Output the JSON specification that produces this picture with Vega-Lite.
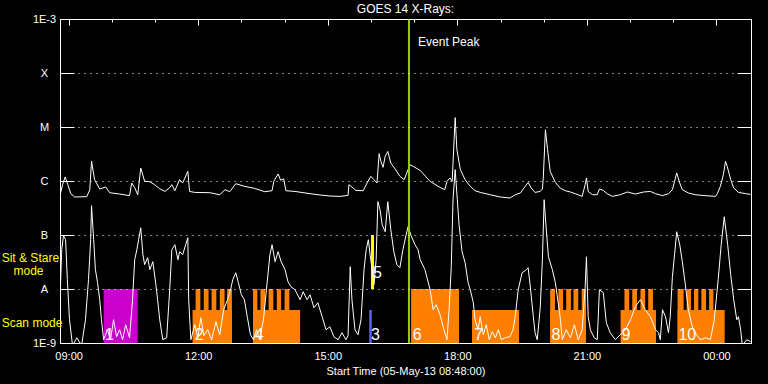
{
  "$schema": "https://vega.github.io/schema/vega-lite/v6.json",
  "width": 691,
  "height": 324,
  "autosize": {"type": "none"},
  "padding": {"left": 60, "top": 19, "right": 17, "bottom": 41},
  "background": "black",
  "config": {
    "view": {"stroke": "white", "strokeWidth": 1},
    "font": "Liberation Sans"
  },
  "title": {"text": "GOES 14 X-Rays:", "color": "white", "font": "Liberation Sans", "fontSize": 12, "fontWeight": "normal", "frame": "group", "offset": -3, "anchor": "middle"},
  "datasets": {
    "long": [
      {"h":8.80,"f":5.41e-7},{"h":8.86,"f":8.54e-7},{"h":8.92,"f":1.19e-6},{"h":8.98,"f":8.54e-7},{"h":9.05,"f":5.82e-7},{"h":9.14,"f":5.06e-7},{"h":9.42,"f":5.12e-7},{"h":9.49,"f":6.90e-7},{"h":9.53,"f":2.35e-6},{"h":9.60,"f":1.06e-6},{"h":9.72,"f":7.11e-7},{"h":9.86,"f":7.74e-7},{"h":9.95,"f":6.07e-7},{"h":10.18,"f":5.74e-7},{"h":10.41,"f":5.35e-7},{"h":10.46,"f":9.18e-7},{"h":10.53,"f":7.52e-7},{"h":10.60,"f":5.57e-7},{"h":10.67,"f":1.74e-6},{"h":10.76,"f":9.84e-7},{"h":10.88,"f":9.70e-7},{"h":10.99,"f":8.54e-7},{"h":11.11,"f":7.19e-7},{"h":11.23,"f":6.41e-7},{"h":11.34,"f":7.52e-7},{"h":11.39,"f":8.54e-7},{"h":11.46,"f":6.61e-7},{"h":11.57,"f":1.06e-6},{"h":11.64,"f":9.18e-7},{"h":11.76,"f":1.51e-6},{"h":11.80,"f":6.41e-7},{"h":11.92,"f":6.15e-7},{"h":12.27,"f":6.07e-7},{"h":12.50,"f":5.57e-7},{"h":12.62,"f":6.90e-7},{"h":12.73,"f":6.34e-7},{"h":12.87,"f":8.91e-7},{"h":13.08,"f":7.94e-7},{"h":13.31,"f":7.29e-7},{"h":13.54,"f":6.34e-7},{"h":13.71,"f":6.61e-7},{"h":13.75,"f":9.84e-7},{"h":13.85,"f":1.35e-6},{"h":13.91,"f":1.03e-6},{"h":13.98,"f":1.10e-6},{"h":14.03,"f":6.61e-7},{"h":14.24,"f":6.41e-7},{"h":14.59,"f":5.82e-7},{"h":14.82,"f":5.51e-7},{"h":15.05,"f":5.27e-7},{"h":15.28,"f":5.19e-7},{"h":15.47,"f":5.41e-7},{"h":15.49,"f":8.54e-7},{"h":15.56,"f":7.74e-7},{"h":15.65,"f":6.70e-7},{"h":15.82,"f":6.61e-7},{"h":15.91,"f":9.18e-7},{"h":16.00,"f":1.22e-6},{"h":16.07,"f":1.06e-6},{"h":16.14,"f":9.18e-7},{"h":16.19,"f":3.21e-6},{"h":16.23,"f":2.31e-6},{"h":16.28,"f":1.79e-6},{"h":16.33,"f":2.86e-6},{"h":16.39,"f":3.53e-6},{"h":16.46,"f":2.15e-6},{"h":16.56,"f":1.67e-6},{"h":16.67,"f":1.22e-6},{"h":16.77,"f":1.06e-6},{"h":16.86,"f":1.62e-6},{"h":16.91,"f":2.00e-6},{"h":16.98,"f":1.86e-6},{"h":17.14,"f":1.57e-6},{"h":17.37,"f":9.84e-7},{"h":17.60,"f":7.61e-7},{"h":17.71,"f":6.90e-7},{"h":17.76,"f":9.84e-7},{"h":17.83,"f":1.14e-6},{"h":17.88,"f":9.84e-7},{"h":17.95,"f":1.49e-5},{"h":17.99,"f":3.80e-6},{"h":18.07,"f":1.62e-6},{"h":18.18,"f":1.06e-6},{"h":18.30,"f":7.94e-7},{"h":18.41,"f":6.61e-7},{"h":18.53,"f":6.15e-7},{"h":18.76,"f":5.57e-7},{"h":18.99,"f":5.06e-7},{"h":19.22,"f":4.84e-7},{"h":19.34,"f":5.57e-7},{"h":19.46,"f":6.00e-7},{"h":19.57,"f":7.94e-7},{"h":19.64,"f":9.42e-7},{"h":19.71,"f":7.41e-7},{"h":19.80,"f":6.15e-7},{"h":19.92,"f":6.41e-7},{"h":19.97,"f":7.11e-7},{"h":19.99,"f":1.14e-6},{"h":20.04,"f":8.91e-6},{"h":20.09,"f":3.80e-6},{"h":20.15,"f":1.51e-6},{"h":20.27,"f":9.42e-7},{"h":20.38,"f":7.41e-7},{"h":20.50,"f":6.61e-7},{"h":20.62,"f":6.25e-7},{"h":20.73,"f":5.82e-7},{"h":20.89,"f":5.19e-7},{"h":20.96,"f":8.54e-7},{"h":20.99,"f":1.14e-6},{"h":21.03,"f":6.41e-7},{"h":21.13,"f":5.57e-7},{"h":21.24,"f":5.57e-7},{"h":21.29,"f":7.11e-7},{"h":21.38,"f":6.70e-7},{"h":21.47,"f":5.82e-7},{"h":21.59,"f":5.19e-7},{"h":21.77,"f":5.57e-7},{"h":21.94,"f":6.25e-7},{"h":22.12,"f":5.74e-7},{"h":22.31,"f":6.25e-7},{"h":22.47,"f":6.41e-7},{"h":22.59,"f":5.82e-7},{"h":22.75,"f":5.35e-7},{"h":22.89,"f":5.82e-7},{"h":22.98,"f":6.90e-7},{"h":23.03,"f":9.84e-7},{"h":23.08,"f":1.41e-6},{"h":23.15,"f":9.18e-7},{"h":23.21,"f":6.90e-7},{"h":23.35,"f":6.00e-7},{"h":23.51,"f":5.57e-7},{"h":23.74,"f":5.35e-7},{"h":23.98,"f":5.19e-7},{"h":24.02,"f":5.82e-7},{"h":24.09,"f":7.94e-7},{"h":24.16,"f":1.31e-6},{"h":24.21,"f":2.31e-6},{"h":24.25,"f":1.86e-6},{"h":24.33,"f":1.06e-6},{"h":24.40,"f":7.41e-7},{"h":24.51,"f":6.15e-7},{"h":24.68,"f":5.82e-7},{"h":24.79,"f":5.65e-7}
    ],
    "short": [
      {"h":8.80,"f":6.34e-9},{"h":8.84,"f":5.35e-8},{"h":8.88,"f":9.71e-8},{"h":8.93,"f":8.18e-8},{"h":8.97,"f":1.49e-8},{"h":9.02,"f":2.70e-9},{"h":9.09,"f":9e-10},{"h":9.19,"f":1.25e-9},{"h":9.30,"f":9e-10},{"h":9.39,"f":2.70e-9},{"h":9.46,"f":1.49e-8},{"h":9.51,"f":8.18e-8},{"h":9.53,"f":3.49e-7},{"h":9.58,"f":8.18e-8},{"h":9.62,"f":2.28e-8},{"h":9.67,"f":1.31e-8},{"h":9.72,"f":6.34e-9},{"h":9.76,"f":2.70e-9},{"h":9.81,"f":1.15e-9},{"h":9.90,"f":1.76e-9},{"h":9.97,"f":1.15e-9},{"h":10.04,"f":2.70e-9},{"h":10.11,"f":1.31e-9},{"h":10.18,"f":1.76e-9},{"h":10.25,"f":1.15e-9},{"h":10.32,"f":2.18e-9},{"h":10.41,"f":1.25e-9},{"h":10.48,"f":6.34e-9},{"h":10.53,"f":3.49e-8},{"h":10.58,"f":5.35e-8},{"h":10.62,"f":8.18e-8},{"h":10.67,"f":1.36e-7},{"h":10.72,"f":4.31e-8},{"h":10.76,"f":2.82e-8},{"h":10.83,"f":3.80e-8},{"h":10.88,"f":2.28e-8},{"h":10.95,"f":3.21e-8},{"h":11.02,"f":1.20e-8},{"h":11.06,"f":6.34e-9},{"h":11.11,"f":2.70e-9},{"h":11.18,"f":1.15e-9},{"h":11.27,"f":1.25e-9},{"h":11.34,"f":9.70e-9},{"h":11.39,"f":5.35e-8},{"h":11.46,"f":6.61e-8},{"h":11.53,"f":3.49e-8},{"h":11.57,"f":4.91e-8},{"h":11.64,"f":4.31e-8},{"h":11.71,"f":6.61e-8},{"h":11.76,"f":8.91e-8},{"h":11.78,"f":6.34e-9},{"h":11.83,"f":1.15e-9},{"h":11.92,"f":2.18e-9},{"h":11.99,"f":1.25e-9},{"h":12.06,"f":2.94e-9},{"h":12.13,"f":1.37e-9},{"h":12.22,"f":1.76e-9},{"h":12.31,"f":1.15e-9},{"h":12.41,"f":2.48e-9},{"h":12.50,"f":1.42e-9},{"h":12.59,"f":4.14e-9},{"h":12.68,"f":6.34e-9},{"h":12.75,"f":9.70e-9},{"h":12.80,"f":1.49e-8},{"h":12.87,"f":2.00e-8},{"h":12.93,"f":1.31e-8},{"h":13.00,"f":7.84e-9},{"h":13.07,"f":6.34e-9},{"h":13.14,"f":2.94e-9},{"h":13.21,"f":1.42e-9},{"h":13.28,"f":1.15e-9},{"h":13.35,"f":1.76e-9},{"h":13.42,"f":1.15e-9},{"h":13.51,"f":2.70e-9},{"h":13.58,"f":9.70e-9},{"h":13.66,"f":4.31e-8},{"h":13.71,"f":6.61e-8},{"h":13.78,"f":3.21e-8},{"h":13.85,"f":4.91e-8},{"h":13.92,"f":3.21e-8},{"h":14.01,"f":2.28e-8},{"h":14.08,"f":1.36e-8},{"h":14.15,"f":1.10e-8},{"h":14.24,"f":9.70e-9},{"h":14.36,"f":6.34e-9},{"h":14.43,"f":8.91e-9},{"h":14.52,"f":6.34e-9},{"h":14.59,"f":7.84e-9},{"h":14.68,"f":4.50e-9},{"h":14.77,"f":5.57e-9},{"h":14.87,"f":3.07e-9},{"h":14.96,"f":1.76e-9},{"h":15.05,"f":2.00e-9},{"h":15.14,"f":1.31e-9},{"h":15.24,"f":1.15e-9},{"h":15.33,"f":1.55e-9},{"h":15.42,"f":1.15e-9},{"h":15.47,"f":1.37e-9},{"h":15.52,"f":2.59e-8},{"h":15.56,"f":6.34e-9},{"h":15.63,"f":1.76e-9},{"h":15.70,"f":1.42e-9},{"h":15.77,"f":2.70e-9},{"h":15.84,"f":2.28e-8},{"h":15.89,"f":5.35e-8},{"h":15.94,"f":8.18e-8},{"h":15.98,"f":4.31e-8},{"h":16.03,"f":2.28e-8},{"h":16.07,"f":1.20e-8},{"h":16.12,"f":3.49e-8},{"h":16.16,"f":4.14e-7},{"h":16.21,"f":2.94e-7},{"h":16.26,"f":1.55e-7},{"h":16.33,"f":1.15e-7},{"h":16.39,"f":4.14e-7},{"h":16.46,"f":1.25e-7},{"h":16.53,"f":4.91e-8},{"h":16.60,"f":2.82e-8},{"h":16.67,"f":2.48e-8},{"h":16.74,"f":5.35e-8},{"h":16.81,"f":9.71e-8},{"h":16.86,"f":1.43e-7},{"h":16.93,"f":9.71e-8},{"h":17.02,"f":6.61e-8},{"h":17.09,"f":5.35e-8},{"h":17.14,"f":3.49e-8},{"h":17.25,"f":2.28e-8},{"h":17.37,"f":9.70e-9},{"h":17.44,"f":4.14e-9},{"h":17.51,"f":5.12e-9},{"h":17.60,"f":3.34e-9},{"h":17.69,"f":1.76e-9},{"h":17.76,"f":1.15e-9},{"h":17.81,"f":4.14e-9},{"h":17.86,"f":2.59e-8},{"h":17.90,"f":4.51e-7},{"h":17.95,"f":1.62e-6},{"h":18.00,"f":4.51e-7},{"h":18.04,"f":1.55e-7},{"h":18.11,"f":4.91e-8},{"h":18.18,"f":3.07e-8},{"h":18.25,"f":1.31e-8},{"h":18.30,"f":9.70e-9},{"h":18.37,"f":5.57e-9},{"h":18.41,"f":2.70e-9},{"h":18.48,"f":1.76e-9},{"h":18.53,"f":3.07e-9},{"h":18.60,"f":1.42e-9},{"h":18.67,"f":2.18e-9},{"h":18.74,"f":1.15e-9},{"h":18.81,"f":1.62e-9},{"h":18.88,"f":1.25e-9},{"h":18.95,"f":1.76e-9},{"h":19.02,"f":1.15e-9},{"h":19.11,"f":1.25e-9},{"h":19.22,"f":1.31e-9},{"h":19.29,"f":1.76e-9},{"h":19.34,"f":3.07e-9},{"h":19.41,"f":9.70e-9},{"h":19.50,"f":2.00e-8},{"h":19.60,"f":2.28e-8},{"h":19.64,"f":2.48e-8},{"h":19.69,"f":1.10e-8},{"h":19.76,"f":3.07e-9},{"h":19.80,"f":1.55e-9},{"h":19.85,"f":1.15e-9},{"h":19.92,"f":4.50e-9},{"h":19.97,"f":3.49e-8},{"h":20.01,"f":4.51e-7},{"h":20.06,"f":1.25e-7},{"h":20.11,"f":3.96e-8},{"h":20.20,"f":2.28e-8},{"h":20.27,"f":1.31e-8},{"h":20.38,"f":3.07e-9},{"h":20.43,"f":1.15e-9},{"h":20.52,"f":1.76e-9},{"h":20.62,"f":1.25e-9},{"h":20.71,"f":2.18e-9},{"h":20.80,"f":1.15e-9},{"h":20.89,"f":1.76e-9},{"h":20.96,"f":1.10e-8},{"h":20.99,"f":3.96e-8},{"h":21.03,"f":3.07e-9},{"h":21.08,"f":1.76e-9},{"h":21.17,"f":1.25e-9},{"h":21.24,"f":1.15e-9},{"h":21.29,"f":9.70e-9},{"h":21.38,"f":8.54e-9},{"h":21.45,"f":2.38e-9},{"h":21.54,"f":1.55e-9},{"h":21.66,"f":1.15e-9},{"h":21.77,"f":1.42e-9},{"h":21.89,"f":1.76e-9},{"h":22.01,"f":2.70e-9},{"h":22.12,"f":4.70e-9},{"h":22.24,"f":6.34e-9},{"h":22.35,"f":4.14e-9},{"h":22.47,"f":3.07e-9},{"h":22.59,"f":1.76e-9},{"h":22.66,"f":1.55e-9},{"h":22.70,"f":1.15e-9},{"h":22.75,"f":4.14e-9},{"h":22.82,"f":3.07e-9},{"h":22.89,"f":1.55e-9},{"h":22.93,"f":3.07e-9},{"h":22.98,"f":1.69e-8},{"h":23.03,"f":4.31e-8},{"h":23.08,"f":1.15e-7},{"h":23.15,"f":6.61e-8},{"h":23.21,"f":3.21e-8},{"h":23.28,"f":1.20e-8},{"h":23.35,"f":4.14e-9},{"h":23.44,"f":2.00e-9},{"h":23.54,"f":1.42e-9},{"h":23.63,"f":1.15e-9},{"h":23.75,"f":1.25e-9},{"h":23.86,"f":1.15e-9},{"h":23.95,"f":2.70e-9},{"h":24.04,"f":1.49e-8},{"h":24.11,"f":6.61e-8},{"h":24.18,"f":2.18e-7},{"h":24.26,"f":6.61e-8},{"h":24.33,"f":1.84e-8},{"h":24.40,"f":6.34e-9},{"h":24.47,"f":2.70e-9},{"h":24.51,"f":3.07e-9},{"h":24.56,"f":1.76e-9},{"h":24.60,"f":9e-10},{"h":24.70,"f":1.15e-9},{"h":24.79,"f":1.06e-9}
    ],
    "obs": [
      {"obs":"raster","h1":9.81,"h2":10.60,"lo":1e-9,"hi":1e-8},
      {"obs":"scan","h1":11.87,"h2":12.78,"lo":1e-9,"hi":4.1e-9},
      {"obs":"scan","h1":11.94,"h2":12.05,"lo":1e-9,"hi":1e-8},
      {"obs":"scan","h1":12.13,"h2":12.24,"lo":1e-9,"hi":1e-8},
      {"obs":"scan","h1":12.31,"h2":12.42,"lo":1e-9,"hi":1e-8},
      {"obs":"scan","h1":12.50,"h2":12.61,"lo":1e-9,"hi":1e-8},
      {"obs":"scan","h1":12.67,"h2":12.78,"lo":1e-9,"hi":1e-8},
      {"obs":"scan","h1":13.27,"h2":14.36,"lo":1e-9,"hi":4.1e-9},
      {"obs":"scan","h1":13.27,"h2":13.37,"lo":1e-9,"hi":1e-8},
      {"obs":"scan","h1":13.44,"h2":13.55,"lo":1e-9,"hi":1e-8},
      {"obs":"scan","h1":13.63,"h2":13.74,"lo":1e-9,"hi":1e-8},
      {"obs":"scan","h1":13.82,"h2":13.92,"lo":1e-9,"hi":1e-8},
      {"obs":"scan","h1":14.00,"h2":14.11,"lo":1e-9,"hi":1e-8},
      {"obs":"sit-stare-a","h1":15.96,"h2":16.02,"lo":1e-9,"hi":4.1e-9},
      {"obs":"sit-stare-b","h1":16.00,"h2":16.07,"lo":1e-8,"hi":1e-7},
      {"obs":"scan","h1":16.93,"h2":18.04,"lo":1e-9,"hi":1e-8},
      {"obs":"scan","h1":18.34,"h2":19.43,"lo":1e-9,"hi":4.1e-9},
      {"obs":"scan","h1":20.15,"h2":20.98,"lo":1e-9,"hi":4.1e-9},
      {"obs":"scan","h1":20.15,"h2":20.26,"lo":1e-9,"hi":1e-8},
      {"obs":"scan","h1":20.34,"h2":20.45,"lo":1e-9,"hi":1e-8},
      {"obs":"scan","h1":20.52,"h2":20.63,"lo":1e-9,"hi":1e-8},
      {"obs":"scan","h1":20.69,"h2":20.80,"lo":1e-9,"hi":1e-8},
      {"obs":"scan","h1":20.88,"h2":20.98,"lo":1e-9,"hi":1e-8},
      {"obs":"scan","h1":21.78,"h2":22.60,"lo":1e-9,"hi":4.1e-9},
      {"obs":"scan","h1":21.87,"h2":21.98,"lo":1e-9,"hi":1e-8},
      {"obs":"scan","h1":22.05,"h2":22.16,"lo":1e-9,"hi":1e-8},
      {"obs":"scan","h1":22.24,"h2":22.35,"lo":1e-9,"hi":1e-8},
      {"obs":"scan","h1":22.42,"h2":22.53,"lo":1e-9,"hi":1e-8},
      {"obs":"scan","h1":23.10,"h2":24.19,"lo":1e-9,"hi":4.1e-9},
      {"obs":"scan","h1":23.10,"h2":23.24,"lo":1e-9,"hi":1e-8},
      {"obs":"scan","h1":23.31,"h2":23.41,"lo":1e-9,"hi":1e-8},
      {"obs":"scan","h1":23.48,"h2":23.58,"lo":1e-9,"hi":1e-8},
      {"obs":"scan","h1":23.65,"h2":23.76,"lo":1e-9,"hi":1e-8},
      {"obs":"scan","h1":23.83,"h2":23.93,"lo":1e-9,"hi":1e-8}
    ],
    "nums": [
      {"n":"1","h":9.84,"f":1.15e-9},
      {"n":"2","h":11.92,"f":1.15e-9},
      {"n":"3","h":16.00,"f":1.15e-9},
      {"n":"4","h":13.31,"f":1.15e-9},
      {"n":"5","h":16.05,"f":1.62e-8},
      {"n":"6","h":16.97,"f":1.15e-9},
      {"n":"7","h":18.39,"f":1.15e-9},
      {"n":"8","h":20.18,"f":1.15e-9},
      {"n":"9","h":21.80,"f":1.15e-9},
      {"n":"10","h":23.12,"f":1.15e-9}
    ],
    "modes": [
      {"t":"Sit & Stare","h":7.45,"f":3.2e-8,"a":"left"},
      {"t":"mode","h":8.07,"f":1.84e-8,"a":"center"},
      {"t":"Scan mode","h":7.45,"f":2.0e-9,"a":"left"}
    ]
  },
  "resolve": {"scale": {"x": "shared", "y": "shared"}, "axis": {"x": "independent", "y": "independent"}},
  "layer": [
    {
      "data": {"name": "obs"},
      "mark": {"type": "rect", "clip": true},
      "encoding": {
        "x": {"field": "h1", "type": "quantitative", "scale": {"domain": [8.8, 24.8], "nice": false, "zero": false},
          "axis": {"orient": "bottom", "values": [9, 12, 15, 18, 21, 24], "labelExpr": "(datum.value % 24 < 10 ? '0' : '') + (datum.value % 24) + ':00'", "title": "Start Time (05-May-13 08:48:00)", "ticks": false, "domain": true, "domainColor": "white", "domainWidth": 1, "grid": false, "labelColor": "white", "labelFont": "Liberation Sans", "labelFontSize": 11, "labelPadding": 7, "titleColor": "white", "titleFont": "Liberation Sans", "titleFontSize": 11, "titleFontWeight": "normal", "titlePadding": 4, "zindex": 1}},
        "x2": {"field": "h2"},
        "y": {"field": "lo", "type": "quantitative", "scale": {"type": "log", "domain": [1e-9, 1e-3], "nice": false},
          "axis": {"orient": "left", "values": [1e-9, 1e-8, 1e-7, 1e-6, 1e-5, 1e-4, 1e-3], "labelExpr": "['1E-9','A','B','C','M','X','1E-3'][round(log(datum.value)/LN10)+9]", "grid": true, "gridColor": "white", "gridDash": [1, 5], "gridOpacity": 1, "gridWidth": 1, "ticks": true, "tickSize": -14, "tickColor": "white", "tickWidth": 1, "domain": false, "labelPadding": 30, "labelAlign": "center", "labelBaseline": "middle", "labelColor": "white", "labelFont": "Liberation Sans", "labelFontSize": 11, "title": null, "zindex": 1}},
        "y2": {"field": "hi"},
        "color": {"field": "obs", "type": "nominal", "legend": null,
          "scale": {"domain": ["raster", "scan", "sit-stare-a", "sit-stare-b"], "range": ["#cc00cc", "#ff8000", "#5a5aff", "#ffff00"]}}
      }
    },
    {
      "data": {"name": "short"},
      "mark": {"type": "line", "color": "white", "strokeWidth": 1, "clip": true},
      "encoding": {
        "x": {"field": "h", "type": "quantitative", "scale": {"domain": [8.8, 24.8], "nice": false, "zero": false}, "axis": null},
        "y": {"field": "f", "type": "quantitative", "scale": {"type": "log", "domain": [1e-9, 1e-3], "nice": false}, "axis": null}
      }
    },
    {
      "data": {"name": "long"},
      "mark": {"type": "line", "color": "white", "strokeWidth": 1, "clip": true},
      "encoding": {
        "x": {"field": "h", "type": "quantitative", "scale": {"domain": [8.8, 24.8], "nice": false, "zero": false}, "axis": null},
        "y": {"field": "f", "type": "quantitative", "scale": {"type": "log", "domain": [1e-9, 1e-3], "nice": false}, "axis": null}
      }
    },
    {
      "data": {"values": [{"h": 16.88}]},
      "mark": {"type": "rule", "color": "#9acd00", "strokeWidth": 2},
      "encoding": {
        "x": {"field": "h", "type": "quantitative", "scale": {"domain": [8.8, 24.8], "nice": false, "zero": false},
          "axis": {"orient": "top", "values": [9, 12, 15, 18, 21, 24], "labels": false, "ticks": true, "tickSize": -6, "tickColor": "white", "tickWidth": 1, "domain": false, "grid": false, "title": null, "zindex": 1}}
      }
    },
    {
      "data": {"values": [{"t": "Event Peak", "h": 17.09, "f": 3.2e-4}]},
      "mark": {"type": "text", "color": "white", "align": "left", "baseline": "alphabetic", "font": "Liberation Sans", "fontSize": 12},
      "encoding": {
        "x": {"field": "h", "type": "quantitative", "scale": {"domain": [8.8, 24.8], "nice": false, "zero": false},
          "axis": {"orient": "top", "values": [10, 11, 13, 14, 16, 17, 19, 20, 22, 23], "labels": false, "ticks": true, "tickSize": -3, "tickColor": "white", "tickWidth": 1, "domain": false, "grid": false, "title": null, "zindex": 1}},
        "y": {"field": "f", "type": "quantitative", "scale": {"type": "log", "domain": [1e-9, 1e-3], "nice": false},
          "axis": {"orient": "right", "values": [1e-8, 1e-7, 1e-6, 1e-5, 1e-4], "labels": false, "ticks": true, "tickSize": -14, "tickColor": "white", "tickWidth": 1, "domain": false, "grid": false, "title": null, "zindex": 1}},
        "text": {"field": "t"}
      }
    },
    {
      "data": {"name": "nums"},
      "mark": {"type": "text", "color": "white", "align": "left", "baseline": "alphabetic", "font": "Liberation Sans", "fontSize": 16},
      "encoding": {
        "x": {"field": "h", "type": "quantitative", "scale": {"domain": [8.8, 24.8], "nice": false, "zero": false}, "axis": null},
        "y": {"field": "f", "type": "quantitative", "scale": {"type": "log", "domain": [1e-9, 1e-3], "nice": false}, "axis": null},
        "text": {"field": "n"}
      }
    },
    {
      "data": {"name": "modes"},
      "transform": [{"filter": "datum.a == 'left'"}],
      "mark": {"type": "text", "color": "#ffff00", "align": "left", "baseline": "alphabetic", "font": "Liberation Sans", "fontSize": 12},
      "encoding": {
        "x": {"field": "h", "type": "quantitative", "scale": {"domain": [8.8, 24.8], "nice": false, "zero": false}, "axis": null},
        "y": {"field": "f", "type": "quantitative", "scale": {"type": "log", "domain": [1e-9, 1e-3], "nice": false}, "axis": null},
        "text": {"field": "t"}
      }
    },
    {
      "data": {"name": "modes"},
      "transform": [{"filter": "datum.a == 'center'"}],
      "mark": {"type": "text", "color": "#ffff00", "align": "center", "baseline": "alphabetic", "font": "Liberation Sans", "fontSize": 12},
      "encoding": {
        "x": {"field": "h", "type": "quantitative", "scale": {"domain": [8.8, 24.8], "nice": false, "zero": false}, "axis": null},
        "y": {"field": "f", "type": "quantitative", "scale": {"type": "log", "domain": [1e-9, 1e-3], "nice": false}, "axis": null},
        "text": {"field": "t"}
      }
    }
  ]
}
